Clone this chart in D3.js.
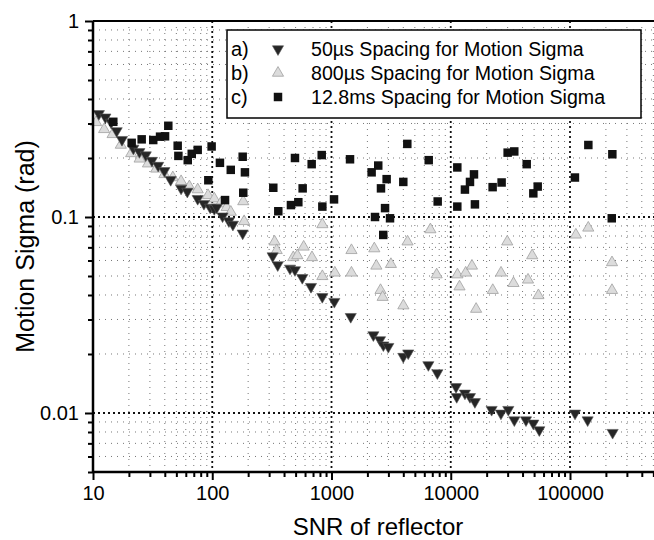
<!DOCTYPE html>
<html>
<head>
<meta charset="utf-8">
<script src="https://cdn.jsdelivr.net/npm/d3@7"></script>
<style>
  body { margin: 0; background: #fff; }
  svg { display: block; font-family: "Liberation Sans", Arial, sans-serif; }
</style>
</head>
<body>
<div id="wrapper"></div>
<script>
// a) 50us spacing: [SNR, sigma]
const series50us = [
  [11.2, 0.336], [12.7, 0.323], [14.2, 0.304], [15.8, 0.275], [17.5, 0.248],
  [21.8, 0.224], [24.5, 0.215], [27.7, 0.207], [31.2, 0.194], [35.2, 0.183],
  [39.7, 0.172], [44.8, 0.155], [54.8, 0.140], [61.8, 0.135], [75.5, 0.124],
  [85.2, 0.117], [96.1, 0.112], [104, 0.110], [109, 0.112], [122, 0.101],
  [138, 0.0954], [149, 0.0916], [180, 0.0826],
  [321, 0.0632], [354, 0.0569], [449, 0.0547], [494, 0.0537], [569, 0.049],
  [673, 0.0441], [837, 0.0392], [1056, 0.037], [1450, 0.031],
  [2245, 0.025], [2553, 0.0236], [2723, 0.0222], [2995, 0.0218], [4000, 0.0194],
  [4400, 0.0202], [6490, 0.0176], [7720, 0.016], [11070, 0.0136], [11220, 0.0121],
  [13150, 0.0126], [14490, 0.0121], [15950, 0.0114], [22020, 0.0104], [26350, 0.00996],
  [30380, 0.0104], [34140, 0.0092], [42760, 0.0092], [49240, 0.00886], [55300, 0.00819],
  [110200, 0.00996], [140600, 0.0092], [227800, 0.00794]
]

// b) 800us spacing
const series800us = [
  [10.6, 0.304], [12.4, 0.280], [14.6, 0.264], [17.1, 0.233], [20.9, 0.211],
  [24.6, 0.198], [28.9, 0.187], [33.9, 0.176], [39.7, 0.165], [46.7, 0.159],
  [54.8, 0.152], [64.3, 0.143], [75.5, 0.138], [92.2, 0.129], [104, 0.124],
  [117, 0.117], [132, 0.112], [143, 0.106], [182, 0.12], [185, 0.095],
  [333, 0.0748], [347, 0.0676], [478, 0.0622], [517, 0.0636], [584, 0.0704],
  [686, 0.0622], [838, 0.0498], [838, 0.0916], [1067, 0.0519], [1470, 0.0676],
  [1470, 0.0519], [2285, 0.069], [2378, 0.0563], [2577, 0.0423], [2684, 0.039],
  [3150, 0.0574], [4006, 0.0353], [4341, 0.0748], [6750, 0.0863], [7616, 0.0508],
  [11380, 0.0508], [11840, 0.0441], [13340, 0.0519], [15060, 0.0563], [16320, 0.0339],
  [22510, 0.0423], [26400, 0.0519], [29770, 0.0748], [33580, 0.0459], [44460, 0.0478],
  [48170, 0.0636], [54330, 0.0398], [112000, 0.0811], [142300, 0.088],
  [225000, 0.0586], [225000, 0.0423]
]

// c) 12.8ms spacing
const series12ms = [
  [14.8, 0.306], [42.8, 0.292], [21.1, 0.239], [25.6, 0.249], [32, 0.247],
  [36.5, 0.257], [40.2, 0.258], [51.3, 0.231], [52, 0.205], [62.3, 0.195],
  [67.3, 0.21], [75.5, 0.22], [98.8, 0.229], [92.7, 0.154], [116, 0.189],
  [143, 0.174], [180, 0.203], [188, 0.169], [182, 0.133], [128, 0.122],
  [325, 0.141], [358, 0.107], [457, 0.115], [527, 0.119], [494, 0.2],
  [573, 0.14], [682, 0.186], [828, 0.207], [838, 0.113], [1050, 0.123],
  [1430, 0.197], [2170, 0.169], [2466, 0.183], [2900, 0.156], [2600, 0.14],
  [2317, 0.1], [2812, 0.111], [3096, 0.0985], [2716, 0.081], [4000, 0.151],
  [4322, 0.236], [6535, 0.195], [7770, 0.12], [11350, 0.179], [11350, 0.113],
  [13150, 0.138], [14500, 0.151], [15660, 0.165], [15950, 0.116], [22450, 0.142],
  [26700, 0.15], [30000, 0.213], [34100, 0.216], [43350, 0.186], [49250, 0.132],
  [53600, 0.143], [110000, 0.159], [142500, 0.233], [226500, 0.209], [224000, 0.0985]
]

const legendPrefixes = ["a)", "b)", "c)"]
const legendLabels = [
  "50\u00b5s Spacing for Motion Sigma",
  "800\u00b5s Spacing for Motion Sigma",
  "12.8ms Spacing for Motion Sigma"
]

const xMajorTicks = [10, 100, 1000, 10000, 100000]
const yMajorTicks = [0.01, 0.1, 1]

const width = 654
const height = 540
const plot = { left: 93, top: 21, decadeX: 119.25, decadeY: 196 }

const svg = d3.select("#wrapper")
  .append("svg")
    .attr("width", width)
    .attr("height", height)

const xScale = d3.scaleLog()
  .domain([10, 1000000])
  .range([plot.left, plot.left + 5 * plot.decadeX])

const yScale = d3.scaleLog()
  .domain([0.005, 1])
  .range([plot.top + Math.log10(200) * plot.decadeY, plot.top])

const x0 = xScale.range()[0]
const x1 = xScale.range()[1]
const y0 = yScale.range()[0]
const y1 = yScale.range()[1]

// minor tick values (2..9 per decade)
const xMinor = []
for (let p = 1; p < 6; p++) for (let m = 2; m < 10; m++) xMinor.push(m * Math.pow(10, p))
const yMinor = []
for (let p = -3; p < 0; p++) for (let m = 2; m < 10; m++) {
  const v = m * Math.pow(10, p)
  if (v >= 0.005) yMinor.push(v)
}

// grid
const grid = svg.append("g")
grid.selectAll(".vminor")
  .data(xMinor)
  .enter().append("line")
    .attr("x1", d => xScale(d)).attr("x2", d => xScale(d))
    .attr("y1", y1).attr("y2", y0)
    .attr("stroke", "#777").attr("stroke-width", 1)
    .attr("stroke-dasharray", "1,5")
grid.selectAll(".hminor")
  .data(yMinor)
  .enter().append("line")
    .attr("x1", x0).attr("x2", x1)
    .attr("y1", d => yScale(d)).attr("y2", d => yScale(d))
    .attr("stroke", "#777").attr("stroke-width", 1)
    .attr("stroke-dasharray", "1,5")
grid.selectAll(".vmajor")
  .data(xMajorTicks.slice(1))
  .enter().append("line")
    .attr("x1", d => xScale(d)).attr("x2", d => xScale(d))
    .attr("y1", y1).attr("y2", y0)
    .attr("stroke", "#111").attr("stroke-width", 1.8)
    .attr("stroke-dasharray", "2,3")
grid.selectAll(".hmajor")
  .data([0.01, 0.1])
  .enter().append("line")
    .attr("x1", x0).attr("x2", x1)
    .attr("y1", d => yScale(d)).attr("y2", d => yScale(d))
    .attr("stroke", "#111").attr("stroke-width", 1.8)
    .attr("stroke-dasharray", "2,3")

// series
const triUp = d3.symbol().type(d3.symbolTriangle).size(54)
const square = d3.symbol().type(d3.symbolSquare).size(72)

const marks = svg.append("g")

marks.selectAll(".b")
  .data(series800us)
  .enter().append("path")
    .attr("d", triUp)
    .attr("transform", d => `translate(${xScale(d[0])},${yScale(d[1])})`)
    .attr("fill", "#dcdcdc")
    .attr("stroke", "#a0a0a0")
    .attr("stroke-width", 0.8)

marks.selectAll(".a")
  .data(series50us)
  .enter().append("path")
    .attr("d", triUp)
    .attr("transform", d => `translate(${xScale(d[0])},${yScale(d[1])}) rotate(180)`)
    .attr("fill", "#262626")
    .attr("stroke", "#555")
    .attr("stroke-width", 0.6)

marks.selectAll(".c")
  .data(series12ms)
  .enter().append("path")
    .attr("d", square)
    .attr("transform", d => `translate(${xScale(d[0])},${yScale(d[1])})`)
    .attr("fill", "#111")

// axes
const xAxis = svg.append("g")
  .attr("transform", `translate(0,${y0})`)
  .call(d3.axisBottom(xScale).tickValues(xMajorTicks).tickSize(8).tickPadding(6)
    .tickFormat(d3.format("d")))
xAxis.append("g")
  .call(d3.axisBottom(xScale).tickValues(xMinor).tickSize(5).tickFormat(""))

const yAxis = svg.append("g")
  .attr("transform", `translate(${x0},0)`)
  .call(d3.axisLeft(yScale).tickValues(yMajorTicks).tickSize(8).tickPadding(6)
    .tickFormat(d => String(d)))
yAxis.append("g")
  .call(d3.axisLeft(yScale).tickValues(yMinor).tickSize(5).tickFormat(""))

svg.selectAll(".domain").remove()
svg.selectAll(".tick line").attr("stroke", "#000").attr("stroke-width", 2)
svg.selectAll(".tick text")
  .attr("fill", "#000")
  .style("font-size", "20px")

// frame
svg.append("line")
  .attr("x1", x0).attr("x2", width).attr("y1", y0).attr("y2", y0)
  .attr("stroke", "#000").attr("stroke-width", 2.5)
svg.append("line")
  .attr("x1", x0).attr("x2", width).attr("y1", y1).attr("y2", y1)
  .attr("stroke", "#000").attr("stroke-width", 2)
svg.append("line")
  .attr("x1", x0).attr("x2", x0).attr("y1", y1).attr("y2", y0)
  .attr("stroke", "#000").attr("stroke-width", 2.5)

// titles
svg.append("text")
  .attr("x", 378).attr("y", 535)
  .attr("text-anchor", "middle")
  .style("font-size", "24px")
  .text("SNR of reflector")

svg.append("text")
  .attr("transform", `translate(34,${(y0 + y1) / 2}) rotate(-90)`)
  .attr("text-anchor", "middle")
  .style("font-size", "25px")
  .text("Motion Sigma (rad)")

// legend
const legend = svg.append("g")
legend.append("rect")
  .attr("x", 227).attr("y", 30)
  .attr("width", 414).attr("height", 88)
  .attr("fill", "#fff").attr("stroke", "#000").attr("stroke-width", 1.5)

const rowY = [49, 73, 97]
legend.selectAll(".prefix")
  .data(legendPrefixes)
  .enter().append("text")
    .attr("x", 231).attr("y", (d, i) => rowY[i] + 7)
    .style("font-size", "20px")
    .text(d => d)
legend.selectAll(".label")
  .data(legendLabels)
  .enter().append("text")
    .attr("x", 311).attr("y", (d, i) => rowY[i] + 7)
    .style("font-size", "19.6px")
    .text(d => d)

legend.append("path")
  .attr("d", triUp)
  .attr("transform", `translate(278,${rowY[0]}) rotate(180)`)
  .attr("fill", "#262626").attr("stroke", "#555").attr("stroke-width", 0.6)
legend.append("path")
  .attr("d", triUp)
  .attr("transform", `translate(278,${rowY[1]})`)
  .attr("fill", "#dcdcdc").attr("stroke", "#a0a0a0").attr("stroke-width", 0.8)
legend.append("path")
  .attr("d", square)
  .attr("transform", `translate(278,${rowY[2]})`)
  .attr("fill", "#111")
</script>
</body>
</html>
